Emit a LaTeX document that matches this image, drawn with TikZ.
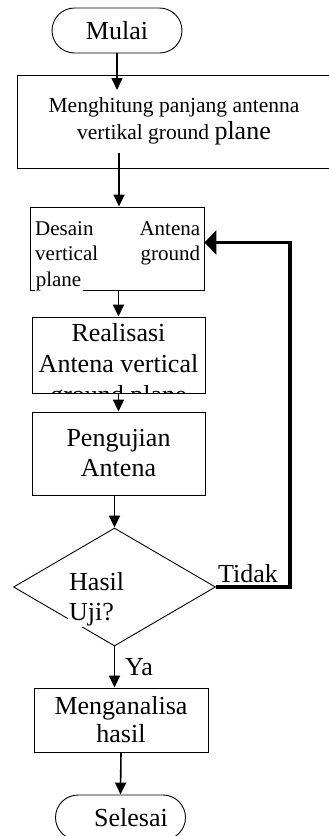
\documentclass[tikz,border=0pt]{standalone}
\usepackage{fontspec}
\setmainfont{Liberation Serif}
\usepackage{xcolor}
\usetikzlibrary{arrows.meta,shapes.misc,shapes.geometric}

\tikzset{
  term/.style={draw, line width=0.9pt, rounded rectangle, minimum width=130pt, minimum height=45pt, inner sep=0pt, font=\fontsize{26}{30}\selectfont},
  proc/.style={draw, line width=0.9pt, rectangle, inner sep=0pt, align=center, font=\fontsize{26}{30}\selectfont},
  dec/.style={draw, line width=0.9pt, diamond, minimum width=202pt, minimum height=118pt, inner sep=0pt},
  big/.style={font=\fontsize{26}{30}\selectfont},
  flow/.style={-{Triangle[length=12pt,width=11pt]}, line width=1.6pt},
  back/.style={-{Triangle[length=12pt,width=24pt]}, line width=3.3pt}
}

\begin{document}
\begin{tikzpicture}[x=1pt,y=-1pt]
  \useasboundingbox (0,0) rectangle (329,836);

  \node[term] (mulai) at (117,30.5) {Mulai};
  \node[proc, minimum width=314pt, minimum height=93pt, font=\fontsize{21.5}{27}\selectfont] (hitung) at (174,121.5)
    {Menghitung panjang antenna\\vertikal ground {\fontsize{26}{27}\selectfont plane}};
  \node[proc, minimum width=174pt, minimum height=83pt] (desain) at (117,248.5) {};
  \node[text width=165pt, align=left, inner sep=0pt, anchor=base west, font=\fontsize{21}{25.5}\selectfont] (desaintxt) at (35,235)
    {Desain\hfill Antena\\vertical\hfill ground\\\setlength\fboxsep{0.6pt}\colorbox{white}{plane\hspace*{1pt}}};
  \node[proc, minimum width=173pt, minimum height=76pt] (real) at (118.5,355) {};
  \begin{scope}
    \clip (real.north west) rectangle (real.south east);
    \node[align=center, inner sep=0pt, anchor=base, font=\fontsize{26}{31}\selectfont] (realtxt) at (118.5,403)
      {Realisasi\\Antena vertical\\ground plane};
  \end{scope}
  \node[proc, minimum width=173pt, minimum height=83pt] (uji) at (118.5,453.5) {Pengujian\\Antena};
  \node[dec] (hasil) at (114.5,587) {};
  \node[big, align=left, fill=white, inner sep=1pt, anchor=base west] (hasiltxt) at (68,620) {Hasil\\Uji?};
  \node[big, inner sep=0pt, anchor=base west] (tidak) at (218,582) {Tidak};
  \node[big, inner sep=0pt, anchor=base west] (ya) at (125,675) {Ya};
  \node[proc, minimum width=174pt, minimum height=64pt, font=\fontsize{26}{28}\selectfont] (analisa) at (121,720) {Menganalisa\\hasil};
  \node[term] (selesai) at (120.5,817.5) {\hspace*{21pt}Selesai};

  \coordinate (c1) at (117,90);
  \coordinate (c2) at (119,153);

  \draw[flow] (mulai.south) -- (c1);
  \draw[flow] (c2) -- (c2 |- desain.north);
  \draw[flow] (desain.south -| real.north) -- (real.north);
  \draw[flow] (real.south) -- (uji.north);
  \draw[flow] (hasil.north |- uji.south) -- (hasil.north);
  \draw[back] (hasil.east) -- (290,587) |- ([yshift=6pt]desain.east);
  \draw[flow] (hasil.south) -- (hasil.south |- analisa.north);
  \draw[flow] (analisa.south) -- (selesai.north);
\end{tikzpicture}
\end{document}
